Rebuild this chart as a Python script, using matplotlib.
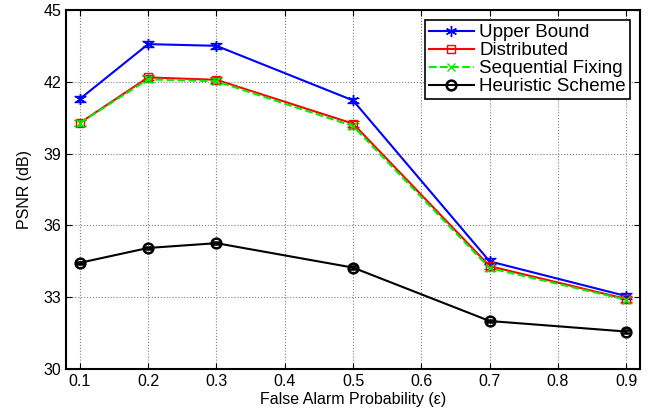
import matplotlib
matplotlib.use('Agg')
import matplotlib.pyplot as plt

plt.rcParams['font.family'] = ['Liberation Sans', 'DejaVu Sans']

eps = [0.1, 0.2, 0.3, 0.5, 0.7, 0.9]
upper_bound = [41.28, 43.57, 43.50, 41.22, 34.50, 33.05]
distributed = [40.28, 42.18, 42.08, 40.25, 34.30, 32.93]
sequential = [40.28, 42.10, 42.02, 40.15, 34.22, 32.90]
heuristic = [34.44, 35.06, 35.26, 34.24, 32.01, 31.57]
err = 0.12

fig = plt.figure(figsize=(6.55, 4.12), dpi=100)
ax = fig.add_axes([0.101, 0.104, 0.876, 0.872])

# MATLAB-style asterisk for the upper bound
asterisk = (6, 2, 0)
ax.errorbar(eps, upper_bound, yerr=err, color='blue', marker=asterisk, markersize=8,
            linewidth=1.5, capsize=4, elinewidth=1.5, label='Upper Bound')
ax.errorbar(eps, distributed, yerr=err, color='red', marker='s', markersize=6,
            markerfacecolor='none', linewidth=1.5, capsize=4, elinewidth=1.5,
            label='Distributed')
ax.errorbar(eps, sequential, yerr=err, color='#00ee00', marker='x', markersize=6,
            linestyle='--', linewidth=1.5, capsize=4, elinewidth=1.5,
            label='Sequential Fixing')
ax.errorbar(eps, heuristic, yerr=0.05, color='black', marker='o', markersize=7,
            markerfacecolor='none', markeredgewidth=1.8, linewidth=1.5,
            capsize=3, elinewidth=1.5, label='Heuristic Scheme')

ax.set_xlim(0.08, 0.92)
ax.set_ylim(30, 45)
ax.set_xticks([0.1, 0.2, 0.3, 0.4, 0.5, 0.6, 0.7, 0.8, 0.9])
ax.set_yticks([30, 33, 36, 39, 42, 45])
ax.tick_params(direction='in', top=True, right=True, labelsize=11.5, length=4)
ax.grid(True, linestyle=':', color='gray', linewidth=0.8)
for s in ax.spines.values():
    s.set_linewidth(1.5)

ax.set_xlabel('False Alarm Probability (ε)', fontsize=11.5, labelpad=2)
ax.set_ylabel('PSNR (dB)', fontsize=11.5, labelpad=8)

handles, labels = ax.get_legend_handles_labels()
handles = [h[0] for h in handles]
leg = ax.legend(handles, labels, loc='upper right', fontsize=13.5, fancybox=False,
                edgecolor='black', framealpha=1, borderaxespad=0.55,
                handlelength=2.4, labelspacing=0.05, borderpad=0.2,
                handletextpad=0.3)
leg.get_frame().set_linewidth(1.2)

fig.savefig('out.png', dpi=100)
